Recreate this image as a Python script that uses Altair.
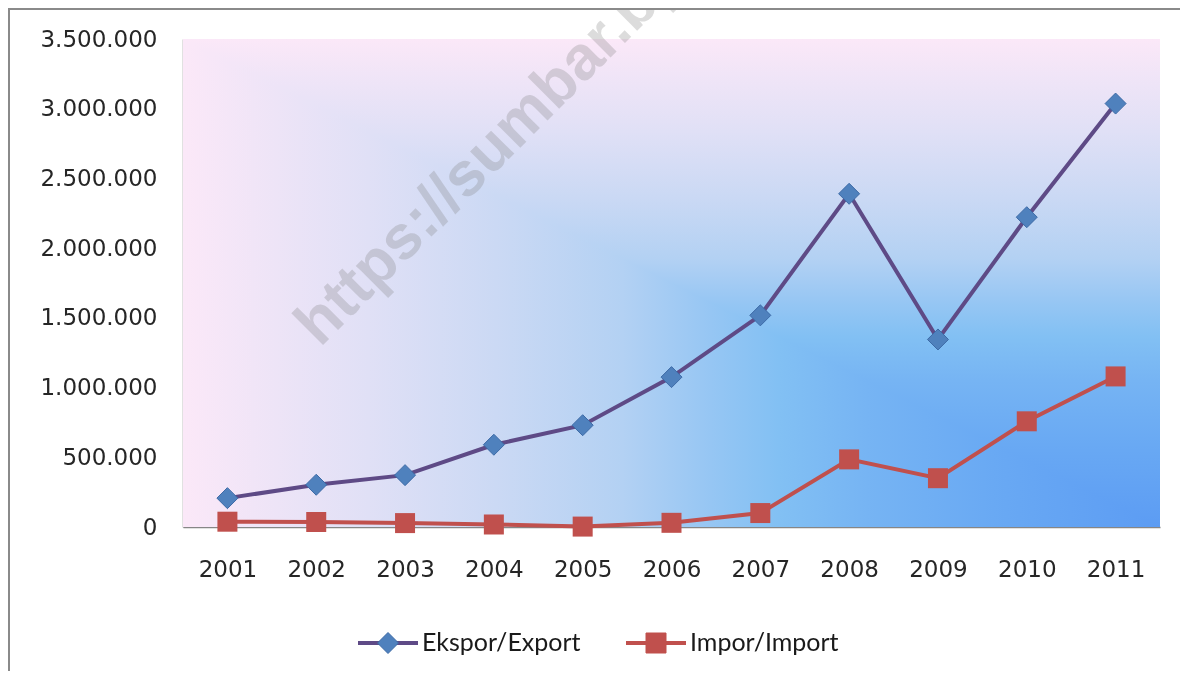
import altair as alt
import pandas as pd

# ---- data ----
years = ["2001", "2002", "2003", "2004", "2005", "2006", "2007", "2008", "2009", "2010", "2011"]
export_vals = [207000, 303000, 372000, 590000, 730000, 1075000, 1518000, 2390000, 1345000, 2222000, 3037000]
import_vals = [38000, 36000, 28000, 18000, 3000, 30000, 100000, 485000, 350000, 758000, 1080000]
series_names = ["Ekspor/Export", "Impor/Import"]
y_ticks = [0, 500000, 1000000, 1500000, 2000000, 2500000, 3000000, 3500000]
watermark = "https://sumbar.bps.go.id"

# ---- layout / style ----
W, H = 977, 488
PAD = {"left": 175, "top": 31, "right": 20, "bottom": 144}
EXPORT_LINE = "#5e4a86"
EXPORT_MARK = "#4f81bd"
IMPORT_COL = "#c0504d"

df = pd.DataFrame({
    "year": years + years,
    "value": export_vals + import_vals,
    "series": [series_names[0]] * len(years) + [series_names[1]] * len(years),
})
one = pd.DataFrame({"k": [0]})
leg_df = pd.DataFrame({"series": series_names})

# corner gradient (pink top/left -> blue bottom-right) from two linear gradients + "lighten" blend
grad_colors = ["#fbe8f8", "#e0e0f6", "#cbd9f4", "#b3d1f3", "#96c6f3", "#82c0f3", "#76b4f3", "#69a9f3", "#5c9cf3"]
grad_offsets = [0.0, 0.19, 0.32, 0.45, 0.54, 0.61, 0.70, 0.83, 1.0]
stops = [alt.GradientStop(color=c, offset=o) for c, o in zip(grad_colors, grad_offsets)]
grad_h = alt.LinearGradient(gradient="linear", stops=stops, x1=0, x2=1, y1=0, y2=0)
grad_v = alt.LinearGradient(gradient="linear", stops=stops, x1=0, x2=0, y1=0, y2=1)

full = dict(x=alt.value(0), x2=alt.value(W), y=alt.value(0), y2=alt.value(H))
bg_h = alt.Chart(one).mark_rect(fill=grad_h).encode(**full)
bg_v = alt.Chart(one).mark_rect(fill=grad_v, blend="lighten").encode(**full)

wm = alt.Chart(one).mark_text(
    text=watermark, angle=315, align="left", baseline="alphabetic",
    font="Liberation Sans", fontWeight="bold", fontSize=62,
    color="#7f7f7f", opacity=0.27,
).encode(x=alt.value(137), y=alt.value(309))

x_enc = alt.X("year:O", scale=alt.Scale(type="point", padding=0.5),
              axis=alt.Axis(title=None, labelAngle=0, ticks=False, grid=False,
                            domainColor="#868686", domainWidth=1.5,
                            labelFont="DejaVu Sans", labelFontSize=23,
                            labelColor="#262626", labelPadding=31))
y_enc = alt.Y("value:Q", scale=alt.Scale(domain=[0, 3500000], nice=False),
              axis=alt.Axis(title=None, values=y_ticks, ticks=False, grid=False,
                            labelExpr="replace(format(datum.value, ','), regexp(',', 'g'), '.')",
                            domainColor="#868686", domainWidth=1.5,
                            labelFont="DejaVu Sans", labelFontSize=23,
                            labelColor="#262626", labelPadding=26))

lines = alt.Chart(df).mark_line(strokeWidth=4).encode(
    x=x_enc, y=y_enc,
    color=alt.Color("series:N", scale=alt.Scale(domain=series_names, range=[EXPORT_LINE, IMPORT_COL]),
                    legend=None),
)

exp_pts = alt.Chart(df).transform_filter(alt.datum.series == series_names[0]).mark_point(
    shape="diamond", filled=True, size=441, fill=EXPORT_MARK, stroke="#3d6aa6",
    strokeWidth=1, opacity=1,
).encode(x=x_enc, y=y_enc)

imp_pts = alt.Chart(df).transform_filter(alt.datum.series == series_names[1]).mark_point(
    shape="square", filled=True, size=400, fill=IMPORT_COL, opacity=1,
).encode(x=x_enc, y=y_enc)


# legend below the plot: line sample + marker + label for each series
def legend_entry(name, line_col, shape, fill, stroke, size, x0):
    src = alt.Chart(leg_df).transform_filter(alt.datum.series == name)
    ly = alt.value(604)
    seg = src.mark_rule(color=line_col, strokeWidth=4).encode(
        x=alt.value(x0), x2=alt.value(x0 + 60), y=ly)
    mk = src.mark_point(shape=shape, filled=True, size=size, fill=fill, stroke=stroke,
                        strokeWidth=1, opacity=1).encode(x=alt.value(x0 + 30), y=ly)
    lab = src.mark_text(align="left", baseline="middle", font="Lato", fontSize=25,
                        color="#1a1a1a").encode(x=alt.value(x0 + 64), y=ly, text="series:N")
    return [seg, mk, lab]


leg_layers = (legend_entry(series_names[0], EXPORT_LINE, "diamond", EXPORT_MARK, "#3d6aa6", 441, 175)
              + legend_entry(series_names[1], IMPORT_COL, "square", IMPORT_COL, IMPORT_COL, 400, 443))

frame_left = alt.Chart(one).mark_rule(color="#8a8a8a", strokeWidth=2).encode(
    x=alt.value(-174), y=alt.value(-30), y2=alt.value(H + 150))
frame_top = alt.Chart(one).mark_rule(color="#8a8a8a", strokeWidth=2).encode(
    x=alt.value(-175), x2=alt.value(W + 40), y=alt.value(-30))

chart = alt.layer(bg_h, bg_v, wm, lines, exp_pts, imp_pts, *leg_layers, frame_left, frame_top).properties(
    width=W, height=H,
    autosize=alt.AutoSizeParams(type="none"),
    padding=PAD,
).configure_view(stroke=None)

chart.save("out.html", embed_options={"renderer": "svg", "actions": False})
